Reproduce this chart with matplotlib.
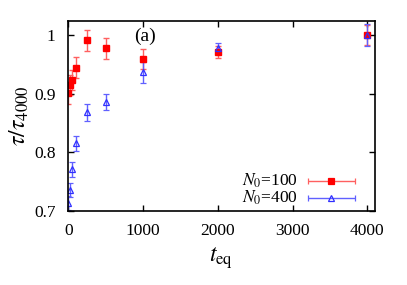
import matplotlib
matplotlib.use('Agg')
import matplotlib.pyplot as plt

plt.rcParams['font.family'] = ['Liberation Serif', 'DejaVu Serif']
plt.rcParams['mathtext.fontset'] = 'stix'

# data
t_eq = [0, 25, 50, 100, 250, 500, 1000, 2000, 4000]
tau_100 = [0.901, 0.914, 0.923, 0.944, 0.991, 0.977, 0.959, 0.971, 1.0]
err_100 = [0.018, 0.017, 0.017, 0.018, 0.018, 0.018, 0.017, 0.010, 0.017]
tau_400 = [0.714, 0.736, 0.771, 0.815, 0.868, 0.886, 0.936, 0.977, 1.0]
err_400 = [0.012, 0.012, 0.013, 0.013, 0.014, 0.014, 0.018, 0.010, 0.019]

fig = plt.figure(figsize=(4.07, 2.85), dpi=100)
ax = fig.add_axes([0.167, 0.26, 0.754, 0.667])

ax.errorbar(t_eq, tau_100, yerr=err_100, fmt='s', color='red', ecolor='#ff6060',
            ms=4, elinewidth=1, capsize=2.5, capthick=1)
ax.errorbar(t_eq, tau_400, yerr=err_400, fmt='^', color='#3030ff', ecolor='#6060ff',
            mfc='none', ms=3.8, mew=0.9, elinewidth=1, capsize=2.5, capthick=1)

ax.set_xlim(-5, 4100)
ax.set_ylim(0.7, 1.024)
ax.set_xticks([0, 1000, 2000, 3000, 4000])
ax.set_yticks([0.7, 0.8, 0.9, 1.0])
ax.set_yticklabels(['0.7', '0.8', '0.9', '1'])
ax.tick_params(direction='in', top=True, right=True, labelsize=12.5, length=4, width=1)
ax.tick_params(axis='x', pad=9)
ax.tick_params(axis='y', pad=9)
for s in ax.spines.values():
    s.set_linewidth(1.2)

ax.set_xlabel(r'$t_{\mathrm{eq}}$', fontsize=17, labelpad=4)
ax.set_ylabel(r'$\tau/\tau_{4000}$', fontsize=17, labelpad=2)

ax.text(0.252, 0.92, '(a)', transform=ax.transAxes, fontsize=14, ha='center', va='center')

# gnuplot-style legend
for yy, lab, fmt, col, ec, mfc in [(0.158, '$N_0$=100', 's', 'red', '#ff6060', 'red'),
                                   (0.068, '$N_0$=400', '^', '#3030ff', '#6060ff', 'none')]:
    ax.text(0.749, yy, lab, transform=ax.transAxes, fontsize=12.5, ha='right', va='center')
    ax.errorbar([0.858], [yy], xerr=[0.0765], fmt=fmt, color=col, ecolor=ec, mfc=mfc,
                ms=4 if fmt == 's' else 3.8, mew=0.9, elinewidth=1, capsize=2.5, capthick=1,
                transform=ax.transAxes, clip_on=False)

fig.savefig('out.png', dpi=100)
